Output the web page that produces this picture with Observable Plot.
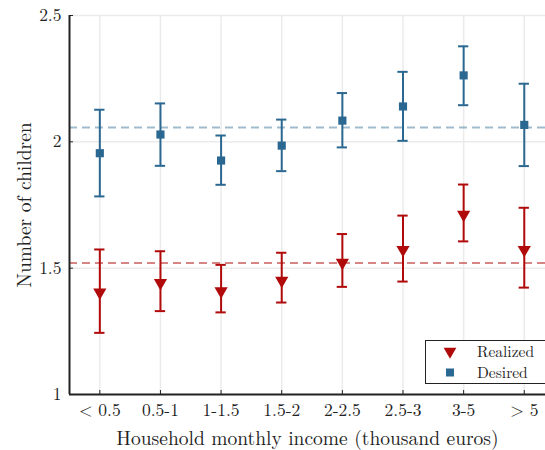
<!DOCTYPE html>
<html>
<head>
<meta charset="utf-8">
<script src="https://cdn.jsdelivr.net/npm/d3@7"></script>
<script src="https://cdn.jsdelivr.net/npm/@observablehq/plot@0.6"></script>
<style>
  body { margin: 0; background: #fff; }
  #wrap { position: relative; width: 545px; height: 450px; }
  #legend { position: absolute; left: 425px; top: 340px; width: 122px; height: 44px; border: 1.5px solid #222; background: #fff; box-sizing: border-box; color: #222; }
  #legend .row { position: absolute; left: 0; height: 18px; display: flex; align-items: center; }
  #legend .row span { line-height: 18px; height: 18px; display: inline-block; overflow: visible; }
  #legend svg { margin-left: 17px; margin-right: 20px; }
</style>
</head>
<body>
<div id="wrap"></div>
<script>
const categories = ["< 0.5", "0.5-1", "1-1.5", "1.5-2", "2-2.5", "2.5-3", "3-5", "> 5"];
const desiredMean = [1.955, 2.029, 1.926, 1.985, 2.084, 2.140, 2.263, 2.067];
const desiredLow  = [1.784, 1.905, 1.830, 1.884, 1.978, 2.004, 2.145, 1.904];
const desiredHigh = [2.127, 2.152, 2.025, 2.088, 2.193, 2.277, 2.378, 2.230];
const realizedMean = [1.404, 1.442, 1.409, 1.451, 1.522, 1.573, 1.712, 1.573];
const realizedLow  = [1.244, 1.330, 1.325, 1.364, 1.426, 1.447, 1.606, 1.423];
const realizedHigh = [1.574, 1.567, 1.513, 1.561, 1.635, 1.708, 1.831, 1.739];
const desiredAverage = 2.057;
const realizedAverage = 1.520;
const yTicks = [1, 1.5, 2, 2.5];

const blue = "#2b6891";
const red = "#b00a0a";
const capHalf = 0.085;
const serif = "'Latin Modern Roman', 'Liberation Serif', serif";

const desired = categories.map((c, i) => ({i: i + 1, mean: desiredMean[i], lo: desiredLow[i], hi: desiredHigh[i]}));
const realized = categories.map((c, i) => ({i: i + 1, mean: realizedMean[i], lo: realizedLow[i], hi: realizedHigh[i]}));

function series(data, color, symbol, r, rotate) {
  return [
    Plot.ruleX(data, {x: "i", y1: "lo", y2: "hi", stroke: color, strokeWidth: 2}),
    Plot.ruleY(data, {y: "lo", x1: d => d.i - capHalf, x2: d => d.i + capHalf, stroke: color, strokeWidth: 2}),
    Plot.ruleY(data, {y: "hi", x1: d => d.i - capHalf, x2: d => d.i + capHalf, stroke: color, strokeWidth: 2}),
    Plot.dot(data, {x: "i", y: "mean", symbol, r, fill: color, stroke: "none", rotate})
  ];
}

const chart = Plot.plot({
  width: 545,
  height: 450,
  marginTop: 15,
  marginBottom: 56,
  marginLeft: 69,
  marginRight: 0,
  style: {fontSize: "17px", color: "#222", background: "#fff"},
  x: {domain: [0.5, 8.35]},
  y: {domain: [1, 2.5]},
  marks: [
    Plot.ruleX(d3.range(1, 9), {stroke: "#ebebeb", strokeWidth: 1.5}),
    Plot.ruleY(yTicks, {stroke: "#ebebeb", strokeWidth: 1.5}),
    Plot.ruleY([desiredAverage], {stroke: blue, strokeOpacity: 0.45, strokeWidth: 2, strokeDasharray: "8,5"}),
    Plot.ruleY([realizedAverage], {stroke: red, strokeOpacity: 0.5, strokeWidth: 2, strokeDasharray: "8,5"}),
    ...series(desired, blue, "square", 4.6, 0),
    ...series(realized, red, "triangle", 4.9, 180),
    Plot.ruleX([0.5], {stroke: "#222", strokeWidth: 2}),
    Plot.ruleY([1], {stroke: "#222", strokeWidth: 2}),
    Plot.axisY({ticks: yTicks, tickSize: -4, tickPadding: 12, tickFormat: d => String(d), label: "Number of children", labelAnchor: "center", labelArrow: "none", labelOffset: 52}),
    Plot.axisX({ticks: d3.range(1, 9), tickSize: -4, tickPadding: 13, tickFormat: d => categories[d - 1], label: "Household monthly income (thousand euros)", labelAnchor: "center", labelArrow: "none", labelOffset: 50})
  ]
});

const wrap = document.getElementById("wrap");
wrap.appendChild(chart);
const svg = d3.select(chart);
svg.selectAll("text").attr("font-family", null).style("font-family", serif).style("font-size", "17.5px");
svg.selectAll("g").style("font-family", serif);
svg.selectAll("[aria-label='y-axis label'] text, [aria-label='x-axis label'] text").style("font-size", "19.5px");

const legend = document.createElement("div");
legend.id = "legend";
legend.innerHTML = `
  <div class="row" style="top:1px"><svg width="14" height="17" viewBox="-7 -8 14 16"><path d="${d3.symbol(d3.symbolTriangle, 70)()}" transform="rotate(180)" fill="${red}"/></svg><span style="font-family:${serif.replace(/'/g, '&quot;')};font-size:15.5px">Realized</span></div>
  <div class="row" style="top:22px"><svg width="14" height="17" viewBox="-7 -8 14 16"><path d="${d3.symbol(d3.symbolSquare, 64)()}" fill="${blue}"/></svg><span style="font-family:${serif.replace(/'/g, '&quot;')};font-size:15.5px">Desired</span></div>`;
wrap.appendChild(legend);
</script>
</body>
</html>
